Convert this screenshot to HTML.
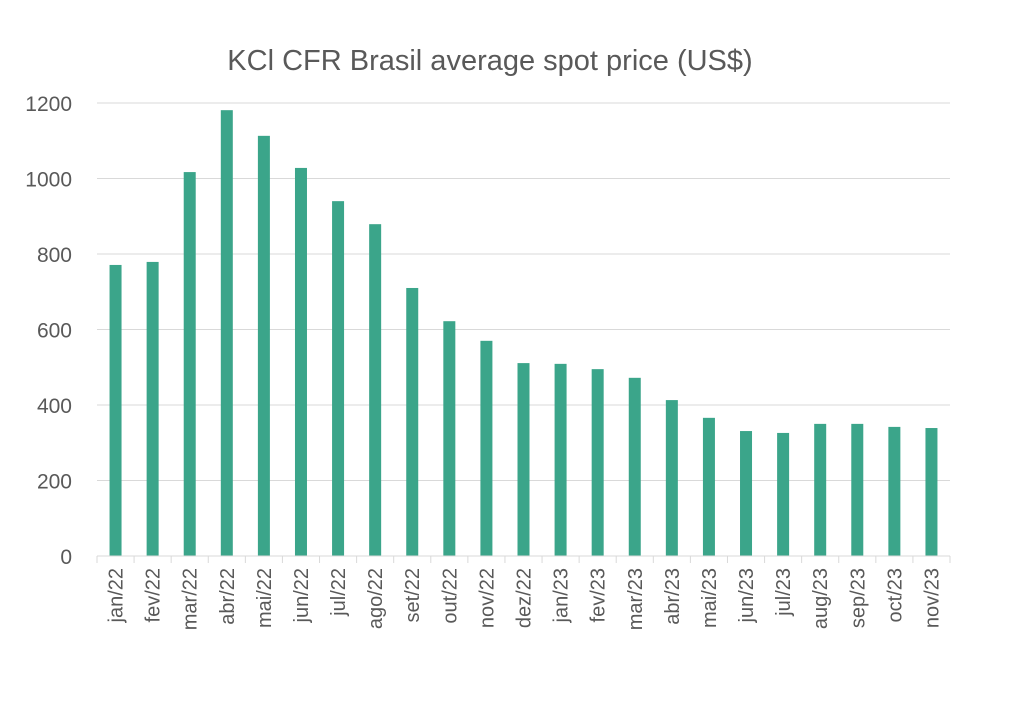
<!DOCTYPE html>
<html><head><meta charset="utf-8"><style>
body{margin:0;background:#fff;}
svg text{font-family:"Liberation Sans",sans-serif;fill:#595959;}
</style></head><body>
<svg id="chart" width="1012" height="708">
<text x="490" y="70" text-anchor="middle" font-size="29">KCl CFR Brasil average spot price (US$)</text>
<g id="grid"></g><g id="bars"></g><g id="axes"></g>
</svg>
<script>
const categories=["jan/22","fev/22","mar/22","abr/22","mai/22","jun/22","jul/22","ago/22","set/22","out/22","nov/22","dez/22","jan/23","fev/23","mar/23","abr/23","mai/23","jun/23","jul/23","aug/23","sep/23","oct/23","nov/23"];
const values=[771,779,1017,1181,1113,1028,940,879,710,622,570,511,509,495,472,413,366,331,326,350,350,342,339];
const yTicks=[0,200,400,600,800,1000,1200];
const NS="http://www.w3.org/2000/svg";
const x0=97,x1=950,yBase=556,yTop=103,yMax=1200;
const bw=(x1-x0)/categories.length;
const y=v=>yBase-(v/yMax)*(yBase-yTop);
const xc=i=>x0+bw*(i+0.5);
function mk(tag,attrs,parent){const e=document.createElementNS(NS,tag);for(const k in attrs)e.setAttribute(k,attrs[k]);parent.appendChild(e);return e;}
const grid=document.getElementById('grid'),bars=document.getElementById('bars'),axes=document.getElementById('axes');
yTicks.forEach(t=>{
 if(t>0){const l=mk('line',{x1:x0,x2:x1,y1:y(t),y2:y(t),stroke:'#d9d9d9','stroke-width':1},grid);
 
 }
 const tx=mk('text',{x:72,y:y(t)+8,'text-anchor':'end','font-size':21},axes);tx.textContent=t;
 
 
});
values.forEach((v,i)=>{
 const r=mk('rect',{x:xc(i)-6,y:y(v),width:12,height:yBase-y(v),fill:'#3ba58a'},bars);
 
 
});
const ax=mk('line',{x1:x0,x2:x1,y1:yBase,y2:yBase,stroke:'#d9d9d9','stroke-width':1},axes);


for(let i=0;i<=categories.length;i++){
 const t=mk('line',{x1:x0+bw*i,x2:x0+bw*i,y1:yBase,y2:yBase+7,stroke:'#d9d9d9'},axes);
 
 
}
categories.forEach((c,i)=>{
 const t=mk('text',{x:0,y:0,'text-anchor':'end','font-size':20,transform:`translate(${xc(i)+7},${yBase+12}) rotate(-90)`},axes);
 t.textContent=c;
 
 
});
</script>
</body></html>
